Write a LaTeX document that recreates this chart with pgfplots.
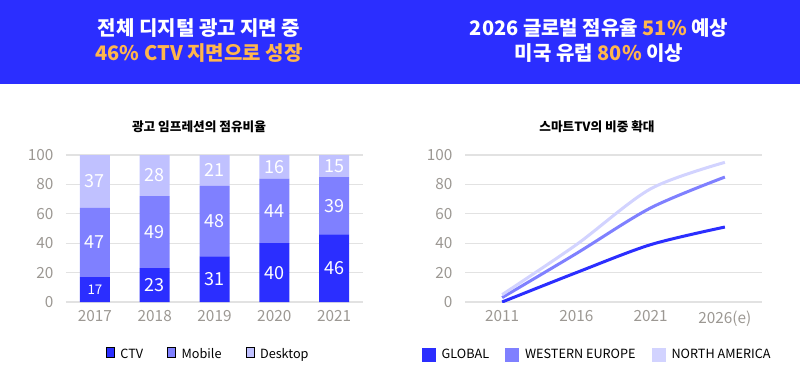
\documentclass[border=0pt]{standalone}
\usepackage{fontspec}
\setmainfont{Noto Sans CJK KR}
\usepackage{pgfplots}
\pgfplotsset{compat=1.18}
\definecolor{banner}{HTML}{2B2EFF}
\definecolor{orng}{HTML}{FFB64D}
\definecolor{ctv}{HTML}{2B2EFF}
\definecolor{mob}{HTML}{7F80FF}
\definecolor{desk}{HTML}{C0C1FF}
\definecolor{na}{HTML}{D2D3FF}
\definecolor{tickc}{HTML}{9C9893}
\definecolor{gridc}{HTML}{E2E2E2}
\pgfplotsset{
  base/.style={scale only axis, width=222.75pt, height=110.25pt,
    ymin=0, ymax=100, ytick={0,20,...,100}, ymajorgrids,
    grid style={gridc, line width=0.9pt},
    axis line style={draw=none}, major tick length=0pt,
    tick label style={font=\fontsize{11.5}{12}\selectfont, text=tickc},
    /pgf/number format/assume math mode=true,
    yticklabel style={xshift=-6pt}, xticklabel style={yshift=-3pt},
    legend image code/.code={\fill[##1] (0pt,-4.1pt) rectangle (8.2pt,4.1pt);},
    legend columns=-1},
  lab/.style={scale only axis, width=222.75pt, height=110.25pt, ymin=0, ymax=100, hide axis, clip=false}
}
\begin{document}
\begin{tikzpicture}
\path[use as bounding box] (0pt,0pt) rectangle (600pt,287.25pt);
\fill[white] (0pt,0pt) rectangle (600pt,287.25pt);
\fill[banner] (0pt,224.25pt) rectangle (600pt,287.25pt);
\node[anchor=base, text=white, font=\fontsize{15}{18}\selectfont\bfseries] at (149.25pt,260.25pt) {전체 디지털 광고 지면 중};
\node[anchor=base, text=orng, font=\fontsize{15}{18}\selectfont\bfseries] at (149.25pt,241.5pt) {46\% CTV 지면으로 성장};
\node[anchor=base, text=white, font=\fontsize{15}{18}\selectfont\bfseries] at (449.25pt,260.25pt) {2026 글로벌 점유율 {\color{orng}51\%} 예상};
\node[anchor=base, text=white, font=\fontsize{15}{18}\selectfont\bfseries] at (449.25pt,241.5pt) {미국 유럽 {\color{orng}80\%} 이상};
\node[anchor=base, font=\fontsize{9.5}{12}\selectfont\bfseries] at (149.25pt,189pt) {광고 임프레션의 점유비율};
\node[anchor=base, font=\fontsize{9.5}{12}\selectfont\bfseries] at (447.75pt,189pt) {스마트TV의 비중 확대};

\begin{axis}[base, at={(49.5pt,60.75pt)}, anchor=south west,
  ybar stacked, bar width=22.5pt, xmin=-0.485, xmax=4.485,
  xtick={0,1,2,3,4}, xticklabels={2017,2018,2019,2020,2021},
  legend style={draw=none, fill=none, at={(0.48,-0.36)}, anchor=center,
    font=\fontsize{9.5}{12}\selectfont,
    /tikz/every odd column/.append style={column sep=2.5pt},
    /tikz/every even column/.append style={column sep=16pt}}]
\addplot[fill=ctv, draw=none] coordinates {(0,17)(1,23)(2,31)(3,40)(4,46)};
\addplot[fill=mob, draw=none] coordinates {(0,47)(1,49)(2,48)(3,44)(4,39)};
\addplot[fill=desk, draw=none] coordinates {(0,37)(1,28)(2,21)(3,16)(4,15)};
\legend{CTV, Mobile, Desktop}
\end{axis}
\begin{axis}[lab, at={(49.5pt,60.75pt)}, anchor=south west, xmin=-0.485, xmax=4.485]
\addplot[only marks, mark=none, nodes near coords, point meta=explicit symbolic,
  every node near coord/.append style={anchor=center, text=white, font=\fontsize{13.5}{14}\selectfont}]
  table[meta=l] {
x y l
0 40.5 47
0 82 37
1 11.5 23
1 47.5 49
1 86 28
2 15.5 31
2 55 48
2 89.5 21
3 20 40
3 62 44
3 92 16
4 23 46
4 65.5 39
4 92.5 15
};
\addplot[only marks, mark=none, nodes near coords, point meta=explicit symbolic,
  every node near coord/.append style={anchor=center, text=white, font=\fontsize{10}{12}\selectfont}]
  table[meta=l] {
x y l
0 8.5 17
};
\end{axis}

\begin{axis}[base, at={(348.75pt,60.75pt)}, anchor=south west,
  xmin=-0.5, xmax=3.5, xtick={0,1,2,3}, xticklabels={2011,2016,2021,2026(e)},
  legend style={draw=none, fill=none, at={(0.446,-0.36)}, anchor=center,
    font=\fontsize{9.5}{12}\selectfont,
    /tikz/every odd column/.append style={column sep=2.5pt},
    /tikz/every even column/.append style={column sep=10pt}}]
\addplot[color=ctv, line width=2.25pt, smooth] coordinates {(0,0)(1,20)(2,39)(3,51)};
\addplot[color=mob, line width=2.25pt, smooth] coordinates {(0,3)(1,33)(2,64)(3,85)};
\addplot[color=na, line width=2.25pt, smooth] coordinates {(0,5)(1,39)(2,77)(3,95)};
\legend{GLOBAL, WESTERN EUROPE, NORTH AMERICA}
\end{axis}
\end{tikzpicture}
\end{document}
